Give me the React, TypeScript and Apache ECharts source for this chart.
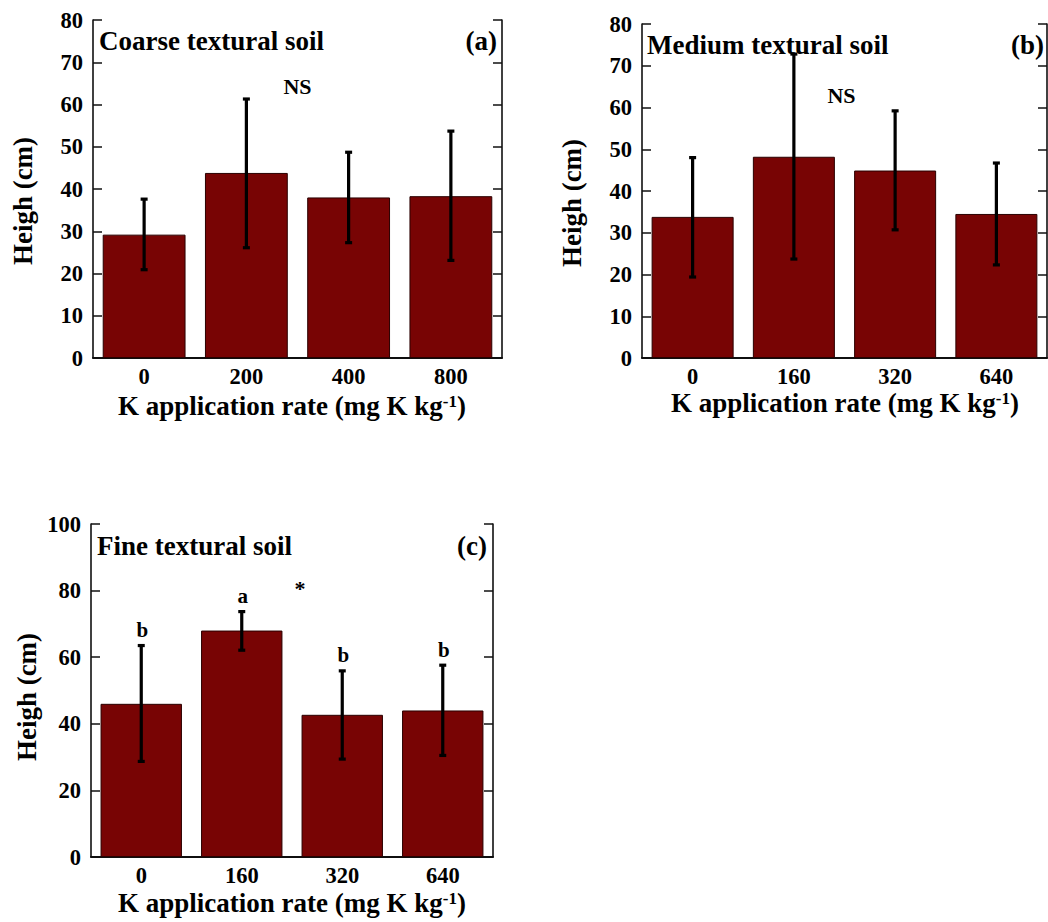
import React, { useEffect, useRef } from "react";
import * as echarts from "echarts";

// ---- data ----
const catsA = ["0", "200", "400", "800"];
const catsBC = ["0", "160", "320", "640"];

const meanA = [29.2, 43.8, 38.0, 38.3];
const upperA = [37.6, 61.3, 48.7, 53.7];
const lowerA = [20.9, 26.1, 27.3, 23.1];

const meanB = [33.8, 48.2, 44.9, 34.5];
const upperB = [48.0, 72.8, 59.2, 46.7];
const lowerB = [19.4, 23.7, 30.7, 22.3];

const meanC = [46.0, 68.0, 42.7, 44.0];
const upperC = [63.5, 73.7, 55.9, 57.6];
const lowerC = [28.7, 62.1, 29.4, 30.5];
const lettersC = ["b", "a", "b", "b"];

const yMaxAB = 80;
const yStepAB = 10;
const yMaxC = 100;
const yStepC = 20;

const titles = ["Coarse textural soil", "Medium textural soil", "Fine textural soil"];
const tags = ["(a)", "(b)", "(c)"];
const notes = ["NS", "NS", "*"];
const noteValues = [64.2, 62.8, 80.6];
const noteX = [1.5, 1.47, 1.58];

const FONT = "'Liberation Serif', 'Times New Roman', serif";
const BAR_COLOR = "#780404";

const panels = [
  { cats: catsA, mean: meanA, upper: upperA, lower: lowerA, max: yMaxAB, step: yStepAB, letters: null as string[] | null },
  { cats: catsBC, mean: meanB, upper: upperB, lower: lowerB, max: yMaxAB, step: yStepAB, letters: null as string[] | null },
  { cats: catsBC, mean: meanC, upper: upperC, lower: lowerC, max: yMaxC, step: yStepC, letters: lettersC },
];

// layout (pixels)
const grids = [
  { left: 93, top: 20, width: 409, height: 338 },
  { left: 642, top: 24, width: 405, height: 334 },
  { left: 91, top: 524, width: 402, height: 333 },
];
const titlePos = [
  { lx: 99, rx: 497, y: 41 },
  { lx: 647, rx: 1044, y: 45 },
  { lx: 97, rx: 487, y: 546 },
];
const yNamePos = [
  { x: 23, y: 201 },
  { x: 572, y: 203 },
  { x: 27, y: 697 },
];
const xNamePos = [
  { x: 292, y: 406 },
  { x: 845, y: 403 },
  { x: 292, y: 903 },
];

export default function App() {
  const ref = useRef<HTMLDivElement>(null);

  useEffect(() => {
    if (!ref.current) return;
    const chart = echarts.init(ref.current, null, { renderer: "svg" });

    const tickStyle = { color: "#111", width: 1.5 };
    const lineStyle = { color: "#000", width: 1.5 };

    const xAxis: any[] = [];
    const yAxis: any[] = [];
    const series: any[] = [];
    const graphic: any[] = [];

    panels.forEach((p, i) => {
      const xb = xAxis.length;
      xAxis.push({
        type: "category",
        gridIndex: i,
        data: p.cats,
        position: "bottom",
        axisLine: { lineStyle },
        axisTick: { inside: true, length: 9, lineStyle: tickStyle },
        axisLabel: { fontFamily: FONT, fontWeight: "bold", fontSize: 22.5, color: "#000", margin: 7 },
      });
      xAxis.push({
        type: "category",
        gridIndex: i,
        data: p.cats,
        position: "top",
        axisLine: { lineStyle },
        axisTick: { inside: true, length: 9, lineStyle: tickStyle },
        axisLabel: { show: false },
      });
      const yl = yAxis.length;
      yAxis.push({
        type: "value",
        gridIndex: i,
        min: 0,
        max: p.max,
        interval: p.step,
        position: "left",
        axisLine: { show: true, lineStyle },
        axisTick: { show: true, inside: true, length: 9, lineStyle: tickStyle },
        splitLine: { show: false },
        axisLabel: { fontFamily: FONT, fontWeight: "bold", fontSize: 22.5, color: "#000", margin: 10 },
      });
      yAxis.push({
        type: "value",
        gridIndex: i,
        min: 0,
        max: p.max,
        interval: p.step,
        position: "right",
        axisLine: { show: true, lineStyle },
        axisTick: { show: true, inside: true, length: 9, lineStyle: tickStyle },
        splitLine: { show: false },
        axisLabel: { show: false },
      });

      series.push({
        type: "bar",
        xAxisIndex: xb,
        yAxisIndex: yl,
        data: p.mean,
        barWidth: "81%",
        itemStyle: { color: BAR_COLOR, borderColor: "#2a0000", borderWidth: 1 },
      });

      series.push({
        type: "custom",
        xAxisIndex: xb,
        yAxisIndex: yl,
        data: p.cats.map((_, k) => [k, p.lower[k], p.upper[k]]),
        encode: { x: 0, y: [1, 2] },
        z: 5,
        renderItem: (params: any, api: any) => {
          const x = api.value(0);
          const hi = api.coord([x, api.value(2)]);
          const lo = api.coord([x, api.value(1)]);
          const cap = 3.5;
          const st = { stroke: "#000", lineWidth: 3.2 };
          const children: any[] = [
            { type: "line", shape: { x1: hi[0], y1: hi[1], x2: lo[0], y2: lo[1] }, style: st },
            { type: "line", shape: { x1: hi[0] - cap, y1: hi[1], x2: hi[0] + cap, y2: hi[1] }, style: st },
            { type: "line", shape: { x1: lo[0] - cap, y1: lo[1], x2: lo[0] + cap, y2: lo[1] }, style: st },
          ];
          if (p.letters) {
            children.push({
              type: "text",
              x: hi[0] + 1,
              y: hi[1] - 5,
              style: {
                text: p.letters[params.dataIndex],
                fontFamily: FONT,
                fontWeight: "bold",
                fontSize: 21,
                fill: "#000",
                align: "center",
                verticalAlign: "bottom",
              },
            });
          }
          return { type: "group", children };
        },
      });

      // significance note (NS / *)
      series.push({
        type: "custom",
        xAxisIndex: xb,
        yAxisIndex: yl,
        data: [[0, noteValues[i]]],
        encode: { x: 0, y: 1 },
        z: 6,
        renderItem: (params: any, api: any) => {
          const c0 = api.coord([0, api.value(1)]);
          const w = api.size([1, 0])[0];
          return {
            type: "text",
            x: c0[0] + noteX[i] * w,
            y: c0[1],
            style: {
              text: notes[i],
              fontFamily: FONT,
              fontWeight: "bold",
              fontSize: 22,
              fill: "#000",
              align: "center",
              verticalAlign: "middle",
            },
          };
        },
      });

      const tp = titlePos[i];
      graphic.push({
        type: "text",
        x: tp.lx,
        y: tp.y,
        z: 10,
        style: { text: titles[i], fontFamily: FONT, fontWeight: "bold", fontSize: 27, fill: "#000", align: "left", verticalAlign: "middle" },
      });
      graphic.push({
        type: "text",
        x: tp.rx,
        y: tp.y,
        z: 10,
        style: { text: tags[i], fontFamily: FONT, fontWeight: "bold", fontSize: 27, fill: "#000", align: "right", verticalAlign: "middle" },
      });
      const yp = yNamePos[i];
      graphic.push({
        type: "text",
        x: yp.x,
        y: yp.y,
        rotation: Math.PI / 2,
        style: { text: "Heigh (cm)", fontFamily: FONT, fontWeight: "bold", fontSize: 27, fill: "#000", align: "center", verticalAlign: "middle" },
      });
      const xp = xNamePos[i];
      graphic.push({
        type: "text",
        x: xp.x,
        y: xp.y,
        style: {
          text: "K application rate (mg K kg{sup|-1})",
          fontFamily: FONT,
          fontWeight: "bold",
          fontSize: 27,
          fill: "#000",
          align: "center",
          verticalAlign: "middle",
          rich: {
            sup: { fontFamily: FONT, fontWeight: "bold", fontSize: 17, fill: "#000", verticalAlign: "top", padding: [0, 0, 10, 0] },
          },
        },
      });
    });

    chart.setOption({
      animation: false,
      backgroundColor: "#fff",
      grid: grids.map((g) => ({ ...g, containLabel: false })),
      xAxis,
      yAxis,
      series,
      graphic,
    });

    return () => chart.dispose();
  }, []);

  return (
    <div
      ref={ref}
      style={{ position: "absolute", left: 0, top: 0, width: 1048, height: 922 }}
    />
  );
}
